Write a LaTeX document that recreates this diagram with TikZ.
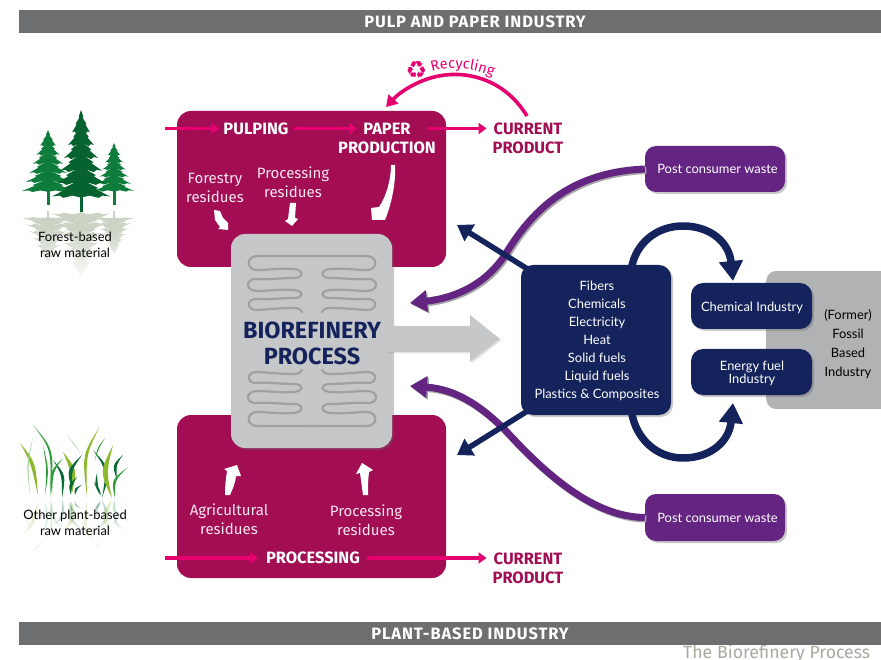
\documentclass[tikz,border=0pt]{standalone}
\usepackage{fontspec}
\setmainfont{Lato}
\newfontfamily\din{Fira Sans}
\newfontfamily\dinw[LetterSpace=5.5]{Fira Sans}
\newfontfamily\sym{DejaVu Sans}
\usetikzlibrary{arrows.meta,fadings,shadows,decorations.text,calc}
\definecolor{maroon}{HTML}{A20D54}
\definecolor{pinkline}{HTML}{E6006F}
\definecolor{navyb}{HTML}{14235B}
\definecolor{purp}{HTML}{632581}
\definecolor{gbox}{HTML}{C6C7C9}
\definecolor{gfossil}{HTML}{B1B2B4}
\definecolor{hdr}{HTML}{6D6E70}
\definecolor{squig}{HTML}{A0A1A3}
\definecolor{treeA}{HTML}{0E7C3B}
\definecolor{treeB}{HTML}{06622F}
\definecolor{refl}{HTML}{CBD3C4}
\definecolor{capt}{HTML}{A8AAA0}
\definecolor{gLime}{HTML}{8DB92E}
\definecolor{gMid}{HTML}{2E9E3B}
\definecolor{gDark}{HTML}{0B6B35}
\definecolor{gPale}{HTML}{A6D5A0}
\tikzset{
  x=1pt,y=-1pt,
  softshadow/.style={drop shadow={shadow xshift=2pt,shadow yshift=-2pt,opacity=.35,fill=black!60}},
  header/.style={fill=hdr,minimum height=23pt,inner sep=0pt,text=white,font=\dinw\fontsize{16.5}{18}\selectfont\bfseries},
  bigbox/.style={fill=maroon,rounded corners=14pt,inner sep=0pt},
  stage/.style={text=white,align=center,font=\din\fontsize{16.4}{19}\selectfont\bfseries,inner sep=0pt},
  product/.style={text=maroon,align=center,font=\din\fontsize{16.4}{19}\selectfont\bfseries,inner sep=0pt},
  residue/.style={text=white!90!maroon,align=center,font=\din\fontsize{15}{19}\selectfont,inner sep=0pt},
  pinkarrow/.style={draw=pinkline,line width=3.2pt,-{Triangle[width=11pt,length=8pt]}},
  navybox/.style={fill=navyb,rounded corners=12pt,inner sep=0pt,softshadow},
  navytext/.style={text=white,align=center,inner sep=0pt},
  wastebox/.style={fill=purp,rounded corners=11pt,inner sep=0pt,text=white,align=center,softshadow,font=\fontsize{12.9}{15}\selectfont},
  navyarc/.style={draw=navyb,line width=7.5pt,-{Triangle[width=23pt,length=20pt]}},
  navydiag/.style={draw=navyb,line width=5.5pt,-{Triangle[width=19pt,length=15pt]}},
  purparrow/.style={draw=purp,line width=7pt,-{Triangle[width=21pt,length=17pt]},preaction={draw=black!35,line width=7pt,transform canvas={shift={(1.5pt,-1.5pt)}},-{Triangle[width=21pt,length=17pt]}}},
  lbl/.style={text=black,align=center,font=\fontsize{12.9}{16}\selectfont,inner sep=0pt},
  squigline/.style={draw=squig,line width=2.2pt,line cap=round},
  wedge/.style={fill=white},
}
% one quarter of the serpentine tubes
\newcommand{\squigq}{%
  \draw[squigline] (312,256) -- (367,256) .. controls (378,256) and (378,270) .. (367,270)
    .. controls (355,270) and (345,268) .. (330,269) .. controls (320,270) and (320,278) .. (330,278)
    .. controls (345,278) and (355,280) .. (367,279) .. controls (379,278) and (379,291) .. (367,291)
    .. controls (355,291) and (345,289) .. (330,290) .. controls (320,291) and (320,298) .. (330,298)
    .. controls (345,298) and (355,300) .. (367,299) .. controls (378,298) and (378,311) .. (366,310)
    .. controls (352,309) and (342,308) .. (330,308) .. controls (325,308) and (323,310) .. (322,312);
}
\newcommand{\squigpart}{%
  \squigq
  \begin{scope}[shift={(624,0)},xscale=-1]\squigq\end{scope}
}
% jagged fir: x, top y, half width, height, colour
\newcommand{\firtree}[5]{%
  \begin{scope}[shift={(#1,#2)}]
  \foreach \i in {1,...,6}{
    \pgfmathsetmacro{\ww}{#3*(\i+1.2)/7.2}
    \pgfmathsetmacro{\tt}{#4*(\i-1)/6.6}
    \pgfmathsetmacro{\hh}{#4*.26}
    \fill[#5] (0,\tt) -- (.25*\ww,\tt+.30*\hh) -- (.20*\ww,\tt+.36*\hh) -- (.60*\ww,\tt+.62*\hh) -- (.50*\ww,\tt+.66*\hh) -- (\ww,\tt+\hh) -- (.75*\ww,\tt+.96*\hh) -- (.6*\ww,\tt+1.06*\hh) -- (.3*\ww,\tt+.96*\hh) -- (0,\tt+1.05*\hh)
      -- (-.3*\ww,\tt+.96*\hh) -- (-.6*\ww,\tt+1.06*\hh) -- (-.75*\ww,\tt+.96*\hh) -- (-\ww,\tt+\hh) -- (-.50*\ww,\tt+.66*\hh) -- (-.60*\ww,\tt+.62*\hh) -- (-.20*\ww,\tt+.36*\hh) -- (-.25*\ww,\tt+.30*\hh) -- cycle;
  }
  \end{scope}}
% grass blade: base x y, tip x y, bend x y, width, colour
\newcommand{\blade}[8]{%
  \fill[#8] (#1,#2) .. controls ($(#5,#6)+(-1.4*#7,0)$) .. (#3,#4) .. controls ($(#5,#6)+(1.4*#7,0)$) .. cycle;}
\newcommand{\grassblades}{%
\foreach \bx/\by/\tx/\ty/\cx/\cy/\w/\c in {
 38/495/20/443/33/462/1.8/gLime,
 30/495/33/437/27/465/.6/gPale,
 50/497/33/425/53/450/1/gMid,
 45/495/43/445/48/470/.8/gMid,
 62/498/53/460/64/475/1.4/gDark,
 52/495/63/458/51/472/1.3/gMid,
 72/493/63/452/74/470/2.4/gLime,
 72/490/82/455/69/470/1.8/gDark,
 71/495/77/477/70/485/1.5/gDark,
 75/495/82/485/76/488/1.3/gDark,
 80/453/67/435/75/445/.4/gPale,
 87/497/99/428/84/455/1.4/gLime,
 102/498/93/450/109/470/1.6/gDark,
 95/460/105/438/98/448/.6/gMid,
 100/495/97/473/96/485/1.2/gDark,
 101/495/94/483/98/488/1/gDark,
 112/498/113/445/103/472/2.4/gLime,
 117/480/123/455/114/465/1.4/gDark,
 115/498/128/467/113/480/1.3/gMid}
{\blade{\bx}{\by}{\tx}{\ty}{\cx}{\cy}{\w}{\c}}}
\begin{document}
\begin{tikzpicture}
\useasboundingbox (0,0) rectangle (881,660);
\fill[white] (0,0) rectangle (881,660);
% caption, partly hidden by the footer
\begin{scope}
\clip (0,0) rectangle (881,660);
\node[text=capt,font=\din\fontsize{17.7}{19}\selectfont,anchor=base west,inner sep=0pt] (caption) at (683,658) {The Biorefinery Process};
\end{scope}
% headers
\node[header,minimum width=862pt] (hdrtop) at (450,21.5) {\hspace*{50pt}PULP AND PAPER INDUSTRY};
\node[header,minimum width=862pt] (hdrbot) at (450,633.5) {\hspace*{40pt}PLANT-BASED INDUSTRY};

% big boxes
\node[bigbox,minimum width=269pt,minimum height=156pt] (topbox) at (311.5,189) {};
\node[bigbox,minimum width=269pt,minimum height=163pt] (botbox) at (311.5,496.5) {};

% forest reflection
\begin{scope}[shift={(0,361)},yscale=-.75]
 \fill[refl] (47,190) rectangle (49,200);
 \fill[refl] (113,190) rectangle (115,200);
 \fill[refl] (80,190) rectangle (82,200);
 \firtree{48}{130}{26}{60}{refl}
 \firtree{114}{143}{20}{47}{refl}
 \firtree{81}{110}{29}{85}{refl}
\end{scope}
\fill[white,path fading=north] (15,228) rectangle (140,282);
% trees
\fill[treeA] (47,188) rectangle (49.5,205);
\fill[treeA] (113,188) rectangle (115.5,205);
\fill[treeB] (79.5,190) rectangle (82.5,212);
\firtree{48}{130}{26}{60}{treeA}
\firtree{114}{143}{20}{47}{treeA}
\firtree{81}{110}{29}{85}{treeB}
\node[lbl] (forest) at (75,245) {Forest-based\\raw material};

% grass
\begin{scope}[shift={(0,848)},yscale=-.7,opacity=.3]
\grassblades
\end{scope}
\fill[white,path fading=north] (15,505) rectangle (135,545);
\grassblades
\node[lbl] (plant) at (75,523) {Other plant-based\\raw material};

% process flow labels
\node[stage] (pulping) at (256,128.5) {PULPING};
\node[stage] (paper) at (387,138) {PAPER\\PRODUCTION};
\node[product] (curtop) at (528,138) {CURRENT\\PRODUCT};
\node[stage] (processing) at (313,558) {PROCESSING};
\node[product] (curbot) at (528,568) {CURRENT\\PRODUCT};
\node[residue] (forres) at (215,187.5) {Forestry\\residues};
\node[residue] (procrestop) at (293,182.5) {Processing\\residues};
\node[residue] (agres) at (229,519.5) {Agricultural\\residues};
\node[residue] (procresbot) at (366,520.5) {Processing\\residues};

% pink arrows
\coordinate (pinA) at (165,128.5);
\coordinate (pinB) at (165,558);
\coordinate (recStart) at (527,116);
\coordinate (recEnd) at (386,107);
\draw[pinkarrow] (pinA) -- ([xshift=-4pt]pulping.west |- pinA);
\draw[pinkarrow] ([xshift=5pt]pulping.east |- pinA) -- (357,128.5);
\draw[pinkarrow] ([xshift=-9pt]paper.east |- pinA) -- ([xshift=-6pt]curtop.west |- pinA);
\draw[pinkarrow] (pinB) -- ([xshift=-8pt]processing.west |- pinB);
\draw[pinkarrow] ([xshift=7pt]processing.east |- pinB) -- ([xshift=-6pt]curbot.west |- pinB);
\draw[draw=pinkline,line width=3.6pt,-{Triangle[width=13pt,length=11pt]}] (recStart) .. controls (505,80) and (470,72) .. (445,75) .. controls (420,78) and (400,92) .. (recEnd);
\path[decorate,decoration={text along path,text align=left,text={|\din\fontsize{14.5}{16}\selectfont\color{pinkline}|Recycling}}] (432,72) .. controls (450,66) and (478,67) .. (503,82);
\node[font=\sym\fontsize{24}{24}\selectfont,text=pinkline,inner sep=0pt] (recsym) at (416.5,70) {♻};

% white wedges
\fill[wedge] (391,165) .. controls (391,180) and (386,197) .. (379,207) -- (371,208) -- (372,220) -- (385,220) .. controls (391,205) and (396,185) .. (395,165) -- cycle;
\fill[wedge] (214,210) -- (220,211) -- (223,218) -- (228,223) -- (228,230) -- (218,229) -- (220,227) -- (215,220) -- cycle;
\fill[wedge] (290,203) -- (296,203) -- (295,218) -- (298,219) -- (292,226) -- (285,221) -- (288,219) -- cycle;
\fill[wedge] (225,495) .. controls (225,485) and (226,478) .. (227,471) -- (224,469) -- (237,465) -- (241,476) -- (236,476) .. controls (235,485) and (232,490) .. (230,495) -- cycle;
\fill[wedge] (363,495) .. controls (362,488) and (361,480) .. (360,473) -- (356,474) -- (362,463) -- (373,470) -- (369,472) .. controls (368,480) and (368,488) .. (368,495) -- cycle;

% biorefinery block
\node[fill=gbox,rounded corners=14pt,minimum width=161pt,minimum height=214pt,inner sep=0pt,softshadow] (bio) at (311.5,341) {};
\fill[gbox,drop shadow={shadow xshift=1.5pt,shadow yshift=-1.5pt,opacity=.2}] (385,326) -- (470,326) -- (470,315) -- (500,339) -- (470,362) -- (470,352) -- (385,352) -- cycle;
\node[text=navyb,align=center,inner sep=0pt,font=\din\fontsize{23.4}{26}\selectfont\bfseries] (biotxt) at (312,343) {BIOREFINERY\\PROCESS};
\squigpart
\begin{scope}[shift={(0,682)},yscale=-1]\squigpart\end{scope}

% right side boxes
\node[fill=gfossil,rounded corners=10pt,minimum width=130pt,minimum height=138pt,inner sep=0pt,anchor=west] (fossil) at (766,340) {};
\node[navybox,minimum width=150pt,minimum height=150pt] (products) at (596,340) {};
\node[navytext,font=\fontsize{12.9}{18}\selectfont] (productstxt) at (597,340.5) {Fibers\\Chemicals\\Electricity\\Heat\\Solid fuels\\Liquid fuels\\Plastics \& Composites};
\node[navybox,minimum width=121pt,minimum height=46pt] (chem) at (751.5,306) {};
\node[navytext,font=\fontsize{12.9}{14}\selectfont] (chemtxt) at (752,308) {Chemical Industry};
\node[navybox,minimum width=121pt,minimum height=46pt] (energy) at (751.5,372) {};
\node[navytext,font=\fontsize{12.9}{13}\selectfont] (energytxt) at (752,373.5) {Energy fuel\\Industry};
\node[lbl,font=\fontsize{12.9}{19}\selectfont] (fossiltxt) at (848,344) {(Former)\\Fossil\\Based\\Industry};
\node[wastebox,minimum width=140pt,minimum height=46pt] (wasteT) at (715,169) {\hspace*{5pt}Post consumer waste};
\node[wastebox,minimum width=140pt,minimum height=47pt] (wasteB) at (715,517.5) {\hspace*{5pt}Post consumer waste};

% connectors
\coordinate (ptA) at (410,303);
\coordinate (ptB) at (410,386);
\coordinate (dgA) at (457,225);
\coordinate (dgB) at (457,455);
\coordinate (arcA) at (733,281);
\coordinate (arcB) at (733,403);
\draw[purparrow] (wasteT.west) .. controls (575,172) and (535,205) .. (505,255) .. controls (485,285) and (455,298) .. (ptA);
\draw[purparrow] (wasteB.west) .. controls (600,517) and (555,485) .. (505,430) .. controls (480,405) and (455,389) .. (ptB);
\draw[navydiag] ([xshift=8pt,yshift=-5pt]products.north west) -- (dgA);
\draw[navydiag] ([xshift=8pt,yshift=5pt]products.south west) -- (dgB);
\draw[navyarc] ([xshift=111pt,yshift=-2pt]products.north west) .. controls (636,244) and (656,226) .. (683,226) .. controls (710,226) and (729,242) .. (arcA);
\draw[navyarc] ([xshift=111pt,yshift=2pt]products.south west) .. controls (636,438) and (656,458) .. (683,458) .. controls (710,458) and (729,442) .. (arcB);
\end{tikzpicture}
\end{document}
